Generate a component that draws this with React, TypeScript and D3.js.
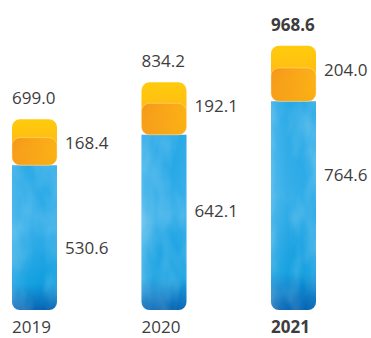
import React from "react";
import * as d3 from "d3";

const years = ["2019", "2020", "2021"];
const blueValues = [530.6, 642.1, 764.6];
const orangeValues = [168.4, 192.1, 204.0];
const totals = [699.0, 834.2, 968.6];
const boldYear = "2021";

const W = 371;
const H = 338;
const BAR_W = 45;
const R = 8;
const FONT = "'Open Sans', 'Noto Sans', sans-serif";
const TEXT = "#3d3d3d";

function roundedRectPath(x: number, y: number, w: number, h: number, rt: number, rb: number) {
  const p = d3.path();
  p.moveTo(x + rt, y);
  p.lineTo(x + w - rt, y);
  p.arcTo(x + w, y, x + w, y + rt, rt);
  p.lineTo(x + w, y + h - rb);
  p.arcTo(x + w, y + h, x + w - rb, y + h, rb);
  p.lineTo(x + rb, y + h);
  p.arcTo(x, y + h, x, y + h - rb, rb);
  p.lineTo(x, y + rt);
  p.arcTo(x, y, x + rt, y, rt);
  p.closePath();
  return p.toString();
}

export default function App() {
  const x = d3.scalePoint<string>().domain(years).range([34.5, 293.5]);
  const y = d3.scaleLinear().domain([0, d3.max(totals) as number]).range([310, 45.7]);

  return (
    <svg
      width={W}
      height={H}
      style={{ position: "absolute", left: 0, top: 0, background: "#fff" }}
      fontFamily={FONT}
    >
      <defs>
        <linearGradient id="blueV" x1="0" y1="0" x2="0" y2="1">
          <stop offset="0" stopColor="#22a6e6" />
          <stop offset="0.45" stopColor="#30ace8" />
          <stop offset="0.82" stopColor="#0e9ddf" />
          <stop offset="1" stopColor="#0462b2" />
        </linearGradient>
        <linearGradient id="blueH" x1="0" y1="0" x2="1" y2="0">
          <stop offset="0" stopColor="#ffffff" stopOpacity="0.16" />
          <stop offset="0.35" stopColor="#ffffff" stopOpacity="0.04" />
          <stop offset="0.7" stopColor="#ffffff" stopOpacity="0" />
          <stop offset="1" stopColor="#ffffff" stopOpacity="0.06" />
        </linearGradient>
        <linearGradient id="orangeV" x1="0" y1="0" x2="0" y2="1">
          <stop offset="0" stopColor="#ffcb0d" />
          <stop offset="0.45" stopColor="#ffbe12" />
          <stop offset="1" stopColor="#f7a31a" />
        </linearGradient>
        <linearGradient id="orangeH" x1="0" y1="0" x2="1" y2="1">
          <stop offset="0" stopColor="#f0821e" stopOpacity="0.7" />
          <stop offset="0.55" stopColor="#f5961e" stopOpacity="0.35" />
          <stop offset="1" stopColor="#ffd000" stopOpacity="0.2" />
        </linearGradient>
        <filter id="tex" x="0" y="0" width="1" height="1">
          <feTurbulence type="fractalNoise" baseFrequency="0.04 0.02" numOctaves="3" seed="4" result="n" />
          <feColorMatrix
            in="n"
            type="matrix"
            values="0 0 0 0 1  0 0 0 0 1  0 0 0 0 1  0 0 0 -2.2 1.35"
            result="m"
          />
          <feComposite in="m" in2="SourceGraphic" operator="in" />
        </filter>
      </defs>

      {years.map((yr, i) => {
        const cx = x(yr) as number;
        const left = cx - BAR_W / 2;
        const top = y(totals[i]);
        const mid = y(blueValues[i]);
        const bottom = y(0);
        const oh = mid - top;
        const bold = yr === boldYear;
        return (
          <g key={yr}>
            <path d={roundedRectPath(left, mid, BAR_W, bottom - mid, 0, R)} fill="url(#blueV)" />
            <path d={roundedRectPath(left, mid, BAR_W, bottom - mid, 0, R)} fill="url(#blueH)" />
            <path
              d={roundedRectPath(left, mid, BAR_W, bottom - mid, 0, R)}
              fill="#ffffff"
              opacity={0.2}
              filter="url(#tex)"
            />
            <path d={roundedRectPath(left, top, BAR_W, oh, R, R)} fill="url(#orangeV)" />
            <path
              d={roundedRectPath(left, top + oh * 0.4, BAR_W, oh * 0.6, R, R)}
              fill="url(#orangeH)"
              stroke="#ffe9a8"
              strokeOpacity={0.55}
              strokeWidth={0.8}
            />
            <text x={left} y={top - 15} fontSize={17} fill={TEXT} fontWeight={bold ? 700 : 400}>
              {totals[i].toFixed(1)}
            </text>
            <text x={left + BAR_W + 8} y={top + 30} fontSize={17} fill={TEXT}>
              {orangeValues[i].toFixed(1)}
            </text>
            <text x={left + BAR_W + 8} y={top + 135} fontSize={17} fill={TEXT}>
              {blueValues[i].toFixed(1)}
            </text>
            <text x={left} y={333} fontSize={17} fill={TEXT} fontWeight={bold ? 700 : 400}>
              {yr}
            </text>
          </g>
        );
      })}
    </svg>
  );
}
